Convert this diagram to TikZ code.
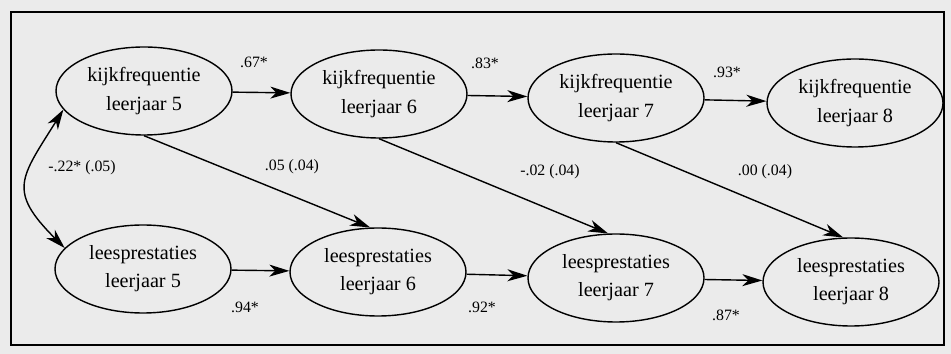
\documentclass[tikz,border=0pt]{standalone}
\usepackage{fontspec}
\setmainfont{Liberation Serif}
\usetikzlibrary{shapes.geometric,arrows.meta}

\tikzset{
    var/.style={draw, ellipse, line width=0.8pt, minimum width=3.52cm,
        minimum height=1.76cm, inner sep=0pt, align=center,
        font=\fontsize{11.5}{16}\selectfont},
    coef/.style={inner sep=1pt, font=\fontsize{9}{10}\selectfont}
}

\begin{document}
\begin{tikzpicture}[>={Stealth[length=4mm,width=2.4mm,inset=1.2mm]}, line width=0.8pt]
    % paper and frame
    \fill[black!8] (0,0) rectangle (19.02,-7.08);
    \draw (0.22,-0.24) rectangle (18.88,-6.90);

    % viewing frequency, grades 5-8
    \node[var] (k5) at (2.88,-1.82) {kijkfrequentie\\leerjaar 5};
    \node[var] (k6) at (7.58,-1.88) {kijkfrequentie\\leerjaar 6};
    \node[var] (k7) at (12.32,-1.96) {kijkfrequentie\\leerjaar 7};
    \node[var] (k8) at (17.10,-2.06) {kijkfrequentie\\leerjaar 8};

    % reading achievement, grades 5-8
    \node[var] (l5) at (2.86,-5.38) {leesprestaties\\leerjaar 5};
    \node[var] (l6) at (7.56,-5.44) {leesprestaties\\leerjaar 6};
    \node[var] (l7) at (12.32,-5.56) {leesprestaties\\leerjaar 7};
    \node[var] (l8) at (17.02,-5.64) {leesprestaties\\leerjaar 8};

    % stability paths
    \draw[->] (k5) -- (k6);
    \draw[->] (k6) -- (k7);
    \draw[->] (k7) -- (k8);
    \draw[->] (l5) -- (l6);
    \draw[->] (l6) -- (l7);
    \draw[->] (l7) -- (l8);

    % cross-lagged paths
    \draw[->] (k5.south) -- (l6.100);
    \draw[->] (k6.south) -- (l7.100);
    \draw[->] (k7.south) -- (l8.100);

    % correlation in grade 5
    \draw[<->] (k5.193) to[out=238, in=135, looseness=1.5] (l5.165);

    % coefficients
    \node[coef] (c1) at (5.08,-1.24) {.67*};
    \node[coef] (c2) at (9.70,-1.26) {.83*};
    \node[coef] (c3) at (14.54,-1.44) {.93*};
    \node[coef] (c4) at (1.64,-3.36) {-.22* (.05)};
    \node[coef] (c5) at (5.84,-3.34) {.05 (.04)};
    \node[coef] (c6) at (11.00,-3.44) {-.02 (.04)};
    \node[coef] (c7) at (15.30,-3.44) {.00 (.04)};
    \node[coef] (c8) at (4.90,-6.14) {.94*};
    \node[coef] (c9) at (9.64,-6.14) {.92*};
    \node[coef] (c10) at (14.52,-6.30) {.87*};
\end{tikzpicture}
\end{document}
